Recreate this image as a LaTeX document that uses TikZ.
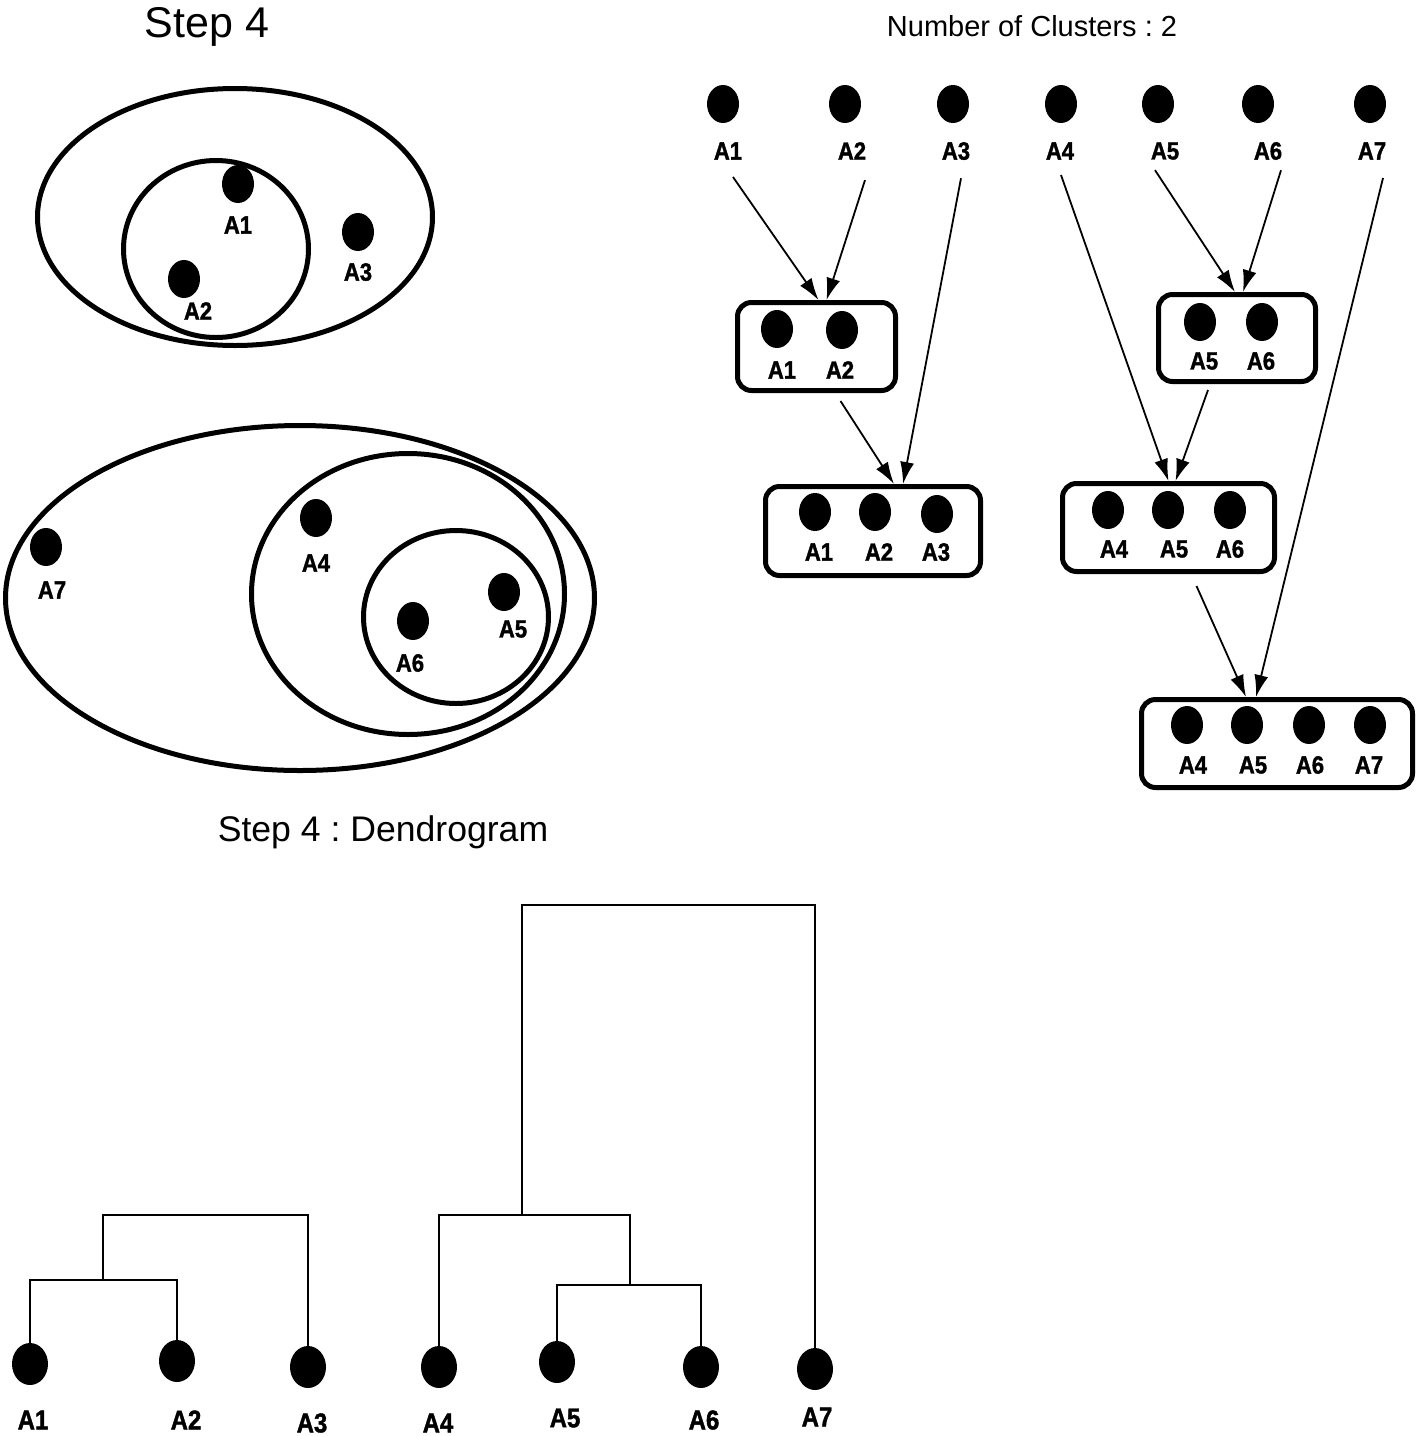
\documentclass[tikz,border=0pt]{standalone}
\usepackage{fontspec}
\setmainfont{Liberation Sans}
\newfontfamily\labfont[FakeStretch=0.88,BoldFeatures={FakeBold=1.5}]{Liberation Sans}
\usetikzlibrary{arrows.meta,shapes.geometric}
\begin{document}
\begin{tikzpicture}[x=0.5pt,y=-0.5pt,
    dot/.style={ellipse,fill=black,inner sep=0pt,minimum width=16pt,minimum height=19pt},
    bigdot/.style={dot,minimum width=18pt,minimum height=21pt},
    lab/.style={font=\labfont\bfseries\fontsize{12.5}{14}\selectfont,inner sep=0pt},
    biglab/.style={font=\labfont\bfseries\fontsize{13.6}{16}\selectfont,inner sep=0pt},
    ring/.style={line width=2.5pt},
    box/.style={draw,line width=2.5pt,rounded corners=7pt,inner sep=0pt,minimum height=44pt},
    link/.style={line width=0.9pt,-{Latex[length=11pt,width=7pt]}},
    tree/.style={line width=1.25pt}]
  \useasboundingbox (0,0) rectangle (1418,1436);
  \frenchspacing

  \node[anchor=base,font=\fontsize{21.5}{24}\selectfont] (step) at (207,37) {Step 4};
  \node[anchor=base,font=\fontsize{14.5}{17}\selectfont] (nclust) at (1032,36) {Number of Clusters : 2};
  \node[anchor=base,font=\fontsize{17.8}{20}\selectfont] (dendro) at (383,841) {Step 4 : Dendrogram};

  % first group
  \draw[ring] (235,217) ellipse [x radius=98.75pt, y radius=64.25pt];
  \draw[ring] (216,249) ellipse [x radius=46.25pt, y radius=44.25pt];
  \node[dot] (v1) at (238,184) {};
  \node[lab] (v1l) at (238,225) {A1};
  \node[dot] (v2) at (184,279) {};
  \node[lab] (v2l) at (198,311) {A2};
  \node[dot] (v3) at (358,232) {};
  \node[lab] (v3l) at (358,272) {A3};

  % second group
  \draw[ring] (300,598) ellipse [x radius=147.25pt, y radius=86.25pt];
  \draw[ring] (408,594) ellipse [x radius=78.25pt, y radius=70.25pt];
  \draw[ring] (456,617) ellipse [x radius=46.25pt, y radius=43.25pt];
  \node[dot] (v7) at (46,547) {};
  \node[lab] (v7l) at (52,590) {A7};
  \node[dot] (v4) at (316,518) {};
  \node[lab] (v4l) at (316,563) {A4};
  \node[dot] (v5) at (504,592) {};
  \node[lab] (v5l) at (513,629) {A5};
  \node[dot] (v6) at (413,621) {};
  \node[lab] (v6l) at (410,663) {A6};

  % merge steps
  \foreach \n/\x/\lx in {1/723/728, 2/845/852, 3/953/956, 4/1061/1060, 5/1158/1165, 6/1258/1268, 7/1370/1372} {
    \node[dot] (top\n) at (\x,104) {};
    \node[lab] (toplab\n) at (\lx,151) {A\n};
  }

  \node[box,minimum width=79pt] (b12) at (816.5,346.5) {};
  \node[dot] at (777,329) {};
  \node[dot] at (842,330) {};
  \node[lab] at (782,370) {A1};
  \node[lab] at (840,370) {A2};

  \node[box,minimum width=78.5pt,minimum height=43.5pt] (b56) at (1237,338) {};
  \node[dot] at (1200,322) {};
  \node[dot] at (1262,322) {};
  \node[lab] at (1204,361) {A5};
  \node[lab] at (1261,361) {A6};

  \node[box,minimum width=107.5pt,minimum height=44.5pt] (b123) at (873,531) {};
  \node[dot] at (815,512) {};
  \node[dot] at (875,512) {};
  \node[dot] at (937,514) {};
  \node[lab] at (819,552) {A1};
  \node[lab] at (879,552) {A2};
  \node[lab] at (936,552) {A3};

  \node[box,minimum width=106pt] (b456) at (1168.5,527.5) {};
  \node[dot] at (1108,510) {};
  \node[dot] at (1168,510) {};
  \node[dot] at (1230,510) {};
  \node[lab] at (1114,549) {A4};
  \node[lab] at (1174,549) {A5};
  \node[lab] at (1230,549) {A6};

  \node[box,minimum width=135.5pt] (b4567) at (1277,743.5) {};
  \node[dot] at (1187,725) {};
  \node[dot] at (1247,725) {};
  \node[dot] at (1309,725) {};
  \node[dot] at (1370,725) {};
  \node[lab] at (1193,765) {A4};
  \node[lab] at (1253,765) {A5};
  \node[lab] at (1310,765) {A6};
  \node[lab] at (1369,765) {A7};

  \draw[link] ([xshift=2.5pt,yshift=-8.5pt]toplab1.south) -- ([xshift=1pt]b12.north);
  \draw[link] ([xshift=6.5pt,yshift=-10pt]toplab2.south) -- ([xshift=5pt]b12.north);
  \draw[link] ([xshift=2.5pt,yshift=-9pt]toplab3.south) -- ([xshift=15pt]b123.north);
  \draw[link] ([xshift=12pt,yshift=-4pt]b12.south) -- ([xshift=10.5pt]b123.north);
  \draw[link] ([xshift=-5pt,yshift=-5pt]toplab5.south) -- ([xshift=-1pt]b56.north);
  \draw[link] ([xshift=6.5pt,yshift=-5pt]toplab6.south) -- ([xshift=3pt]b56.north);
  \draw[link] ([xshift=0.5pt,yshift=-7.5pt]toplab4.south) -- ([xshift=0pt]b456.north);
  \draw[link] ([xshift=-14.5pt,yshift=-3pt]b56.south) -- ([xshift=3.5pt]b456.north);
  \draw[link] ([xshift=14pt,yshift=-6pt]b456.south) -- ([xshift=-15.5pt]b4567.north);
  \draw[link] ([xshift=5.5pt,yshift=-9pt]toplab7.south) -- ([xshift=-10.5pt]b4567.north);

  % dendrogram
  \foreach \n/\x/\y/\lx/\ly in {1/30/1364/33/1420, 2/177/1361/186/1420, 3/308/1367/312/1423, 4/439/1367/438/1423, 5/557/1362/565/1418, 6/701/1367/704/1420, 7/815/1369/817/1417} {
    \node[bigdot] (d\n) at (\x,\y) {};
    \node[biglab] (dlab\n) at (\lx,\ly) {A\n};
  }
  \coordinate (j12) at (103,1280);
  \coordinate (j123) at (206,1215);
  \coordinate (j56) at (630,1285);
  \coordinate (j456) at (522,1215);
  \coordinate (jall) at (668,905);
  \draw[tree] (d1.north) |- (j12) -| (d2.north);
  \draw[tree] (j12) |- (j123) -| (d3.north);
  \draw[tree] (d5.north) |- (j56) -| (d6.north);
  \draw[tree] (d4.north) |- (j456) -| (j56);
  \draw[tree] (j456) |- (jall) -| (d7.north);
\end{tikzpicture}
\end{document}
